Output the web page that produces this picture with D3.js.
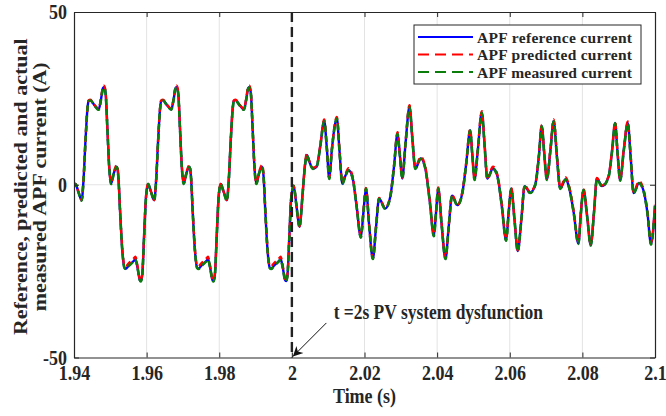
<!DOCTYPE html>
<html>
<head>
<meta charset="utf-8">
<script src="https://d3js.org/d3.v7.min.js"></script>
<style>
  body { margin: 0; background: #fff; }
  text { font-family: "Liberation Serif", "Times New Roman", serif; font-weight: bold; fill: #262626; }
</style>
</head>
<body>
<script>
// time axis (s)
const time = [
  // 1.94 - 1.96
  1.9400, 1.9404, 1.9412, 1.9421, 1.9426, 1.9432, 1.9437, 1.9440, 1.9445, 1.9455, 1.9468, 1.9474,
  1.9480, 1.9483, 1.9487, 1.9492, 1.9497, 1.9502, 1.9510, 1.9518, 1.9522, 1.9527, 1.9533, 1.9539,
  1.9543, 1.9550, 1.9565, 1.9569, 1.9575, 1.9581, 1.9584, 1.9588, 1.9593, 1.9598,
  // 1.96 - 1.98
  1.9604, 1.9612, 1.9621, 1.9626, 1.9632, 1.9637, 1.9640, 1.9645, 1.9655, 1.9668, 1.9674,
  1.9680, 1.9683, 1.9687, 1.9692, 1.9697, 1.9702, 1.9710, 1.9718, 1.9722, 1.9727, 1.9733, 1.9739,
  1.9743, 1.9750, 1.9765, 1.9769, 1.9775, 1.9781, 1.9784, 1.9788, 1.9793, 1.9798,
  // 1.98 - 2.00
  1.9804, 1.9812, 1.9821, 1.9826, 1.9832, 1.9837, 1.9840, 1.9845, 1.9855, 1.9868, 1.9874,
  1.9880, 1.9883, 1.9887, 1.9892, 1.9897, 1.9902, 1.9910, 1.9918, 1.9922, 1.9927, 1.9933, 1.9939,
  1.9943, 1.9950, 1.9965, 1.9969, 1.9975, 1.9981, 1.9984, 1.9988, 1.9993, 1.9998,
  // after PV dysfunction
  2.0005, 2.0012, 2.0021, 2.0030, 2.0036, 2.0041, 2.0047, 2.0058, 2.0068, 2.0078,
  2.0089, 2.0096, 2.0103, 2.0110, 2.0124, 2.0131, 2.0139, 2.0147, 2.0156, 2.0167,
  2.0178, 2.0190, 2.0197, 2.0204, 2.0213, 2.0223, 2.0232, 2.0240, 2.0257, 2.0271,
  2.0281, 2.0291, 2.0297, 2.0304, 2.0313, 2.0324, 2.0332, 2.0340, 2.0355, 2.0367,
  2.0380, 2.0391, 2.0397, 2.0403, 2.0412, 2.0423, 2.0432, 2.0441, 2.0456, 2.0470,
  2.0480, 2.0491, 2.0497, 2.0503, 2.0512, 2.0523, 2.0531, 2.0538, 2.0554, 2.0566,
  2.0578, 2.0590, 2.0597, 2.0604, 2.0613, 2.0622, 2.0632, 2.0641, 2.0656, 2.0670,
  2.0680, 2.0688, 2.0695, 2.0702, 2.0712, 2.0721, 2.0730, 2.0739, 2.0754, 2.0763,
  2.0776, 2.0789, 2.0796, 2.0803, 2.0813, 2.0823, 2.0832, 2.0840, 2.0854, 2.0872,
  2.0882, 2.0890, 2.0897, 2.0904, 2.0914, 2.0925, 2.0933, 2.0941, 2.0956, 2.0968,
  2.0979, 2.0989, 2.1000
];

// APF reference current (A)
const refCurrent = [
  -0.5, 0.2, -2.0, -4.5, 1.0, 13.5, 22.0, 24.2, 24.5, 23.2, 21.8, 24.5,
  28.0, 28.2, 26.5, 16.0, 5.0, 0.3, 3.5, 5.2, 2.5, -8.0, -19.0, -24.0,
  -24.3, -23.5, -22.0, -21.5, -24.0, -27.5, -27.9, -26.0, -15.0, -4.0,
  0.2, -2.0, -4.5, 1.0, 13.5, 22.0, 24.2, 24.5, 23.2, 21.8, 24.5,
  28.0, 28.2, 26.5, 16.0, 5.0, 0.3, 3.5, 5.2, 2.5, -8.0, -19.0, -24.0,
  -24.3, -23.5, -22.0, -21.5, -24.0, -27.5, -27.9, -26.0, -15.0, -4.0,
  0.2, -2.0, -4.5, 1.0, 13.5, 22.0, 24.2, 24.5, 23.2, 21.8, 24.5,
  28.0, 28.2, 26.5, 16.0, 5.0, 0.3, 3.5, 5.2, 2.5, -8.0, -19.0, -24.0,
  -24.3, -23.5, -22.0, -21.5, -24.0, -27.5, -27.9, -26.0, -15.0, -4.0,
  -0.3, -5.5, -12.2, -2.0, 5.5, 8.6, 7.0, 4.7, 5.2, 11.0,
  18.5, 11.0, 1.8, 10.0, 19.2, 10.0, 0.3, 2.5, 4.2, 2.1,
  -6.0, -15.2, -8.0, -1.1, -12.0, -21.4, -12.0, -4.0, -6.9, -3.5,
  5.0, 14.8, 9.0, 1.8, 12.0, 22.6, 13.0, 4.7, 7.6, 5.0,
  -5.0, -14.8, -8.0, -1.0, -11.0, -21.4, -12.0, -3.2, -5.9, -2.0,
  6.0, 15.8, 8.5, 1.5, 10.0, 20.9, 11.0, 1.8, 4.7, 2.5,
  -6.0, -16.1, -8.0, -1.1, -10.0, -19.2, -10.0, -0.4, -2.3, -0.1,
  8.0, 17.0, 9.0, 1.5, 10.0, 18.5, 8.0, -1.1, 1.6, -0.6,
  -8.0, -17.0, -8.0, -1.4, -9.0, -17.5, -8.0, 1.8, -0.4, 2.3,
  10.0, 17.9, 9.0, 1.3, 10.0, 17.9, 8.0, -2.4, 0.5, -1.6,
  -8.0, -17.2, -6.0
];

// APF predicted current (A)
const predCurrent = [
  -0.5, 0.2, -2.0, -4.4, 1.2, 13.7, 22.2, 24.4, 24.6, 23.3, 22.0, 24.8,
  28.4, 28.7, 26.9, 16.3, 5.3, 0.6, 3.8, 5.7, 2.9, -7.6, -18.6, -23.4,
  -23.6, -22.8, -21.3, -20.8, -23.5, -27.3, -27.7, -25.8, -14.8, -3.8,
  0.2, -2.0, -4.4, 1.2, 13.7, 22.2, 24.4, 24.6, 23.3, 22.0, 24.8,
  28.4, 28.7, 26.9, 16.3, 5.3, 0.6, 3.8, 5.7, 2.9, -7.6, -18.6, -23.4,
  -23.6, -22.8, -21.3, -20.8, -23.5, -27.3, -27.7, -25.8, -14.8, -3.8,
  0.2, -2.0, -4.4, 1.2, 13.7, 22.2, 24.4, 24.6, 23.3, 22.0, 24.8,
  28.4, 28.7, 26.9, 16.3, 5.3, 0.6, 3.8, 5.7, 2.9, -7.6, -18.6, -23.4,
  -23.6, -22.8, -21.3, -20.8, -23.5, -27.3, -27.7, -25.8, -14.8, -3.8,
  -0.3, -5.5, -12.0, -2.0, 5.8, 8.9, 7.2, 4.9, 5.4, 11.2,
  18.9, 11.2, 2.0, 10.2, 19.6, 10.3, 0.6, 2.9, 4.8, 2.5,
  -5.7, -14.8, -7.8, -0.9, -11.8, -21.2, -11.8, -3.8, -6.7, -3.3,
  5.3, 15.2, 9.2, 2.0, 12.3, 23.0, 13.4, 5.0, 8.1, 5.4,
  -4.6, -14.3, -7.7, -0.8, -10.8, -21.2, -11.8, -3.0, -5.7, -1.8,
  6.3, 16.1, 8.8, 1.7, 10.3, 21.3, 11.4, 2.1, 5.2, 2.9,
  -5.6, -15.6, -7.8, -0.9, -9.8, -19.0, -9.8, -0.2, -2.1, 0.1,
  8.3, 17.3, 9.2, 1.7, 10.3, 18.9, 8.4, -0.8, 2.1, -0.2,
  -7.6, -16.5, -7.8, -1.2, -8.8, -17.3, -7.8, 2.0, -0.2, 2.5,
  10.3, 18.2, 9.2, 1.5, 10.3, 18.3, 8.4, -2.1, 1.0, -1.2,
  -7.6, -16.8, -5.8
];

// APF measured current (A)
const measCurrent = [
  -0.5, 0.2, -2.1, -4.6, 0.9, 13.4, 21.9, 24.1, 24.4, 23.1, 21.7, 24.4,
  27.9, 28.1, 26.4, 15.9, 4.9, 0.2, 3.4, 5.1, 2.4, -8.1, -19.1, -24.1,
  -24.4, -23.6, -22.1, -21.6, -24.1, -27.6, -28.0, -26.1, -15.1, -4.1,
  0.2, -2.1, -4.6, 0.9, 13.4, 21.9, 24.1, 24.4, 23.1, 21.7, 24.4,
  27.9, 28.1, 26.4, 15.9, 4.9, 0.2, 3.4, 5.1, 2.4, -8.1, -19.1, -24.1,
  -24.4, -23.6, -22.1, -21.6, -24.1, -27.6, -28.0, -26.1, -15.1, -4.1,
  0.2, -2.1, -4.6, 0.9, 13.4, 21.9, 24.1, 24.4, 23.1, 21.7, 24.4,
  27.9, 28.1, 26.4, 15.9, 4.9, 0.2, 3.4, 5.1, 2.4, -8.1, -19.1, -24.1,
  -24.4, -23.6, -22.1, -21.6, -24.1, -27.6, -28.0, -26.1, -15.1, -4.1,
  -0.4, -5.6, -12.3, -2.1, 5.4, 8.5, 6.9, 4.6, 5.1, 10.9,
  18.4, 10.9, 1.7, 9.9, 19.1, 9.9, 0.2, 2.4, 4.1, 2.0,
  -6.1, -15.3, -8.1, -1.2, -12.1, -21.5, -12.1, -4.1, -7.0, -3.6,
  4.9, 14.7, 8.9, 1.7, 11.9, 22.5, 12.9, 4.6, 7.5, 4.9,
  -5.1, -14.9, -8.1, -1.1, -11.1, -21.5, -12.1, -3.3, -6.0, -2.1,
  5.9, 15.7, 8.4, 1.4, 9.9, 20.8, 10.9, 1.7, 4.6, 2.4,
  -6.1, -16.2, -8.1, -1.2, -10.1, -19.3, -10.1, -0.5, -2.4, -0.2,
  7.9, 16.9, 8.9, 1.4, 9.9, 18.4, 7.9, -1.2, 1.5, -0.7,
  -8.1, -17.1, -8.1, -1.5, -9.1, -17.6, -8.1, 1.7, -0.5, 2.2,
  9.9, 17.8, 8.9, 1.2, 9.9, 17.8, 7.9, -2.5, 0.4, -1.7,
  -8.1, -17.3, -6.1
];

const xTicks = [1.94, 1.96, 1.98, 2.0, 2.02, 2.04, 2.06, 2.08, 2.1];
const xTickLabels = ["1.94", "1.96", "1.98", "2", "2.02", "2.04", "2.06", "2.08", "2.1"];
const yTicks = [-50, 0, 50];
const yTickLabels = ["-50", "0", "50"];
const seriesNames = ["APF reference current", "APF predicted current", "APF measured current"];
const eventTime = 2.0;
const eventLabel = "t =2s PV system dysfunction";

const W = 666, H = 416;
const margin = { top: 12, right: 11, bottom: 58.5, left: 74 };
const svg = d3.select("body").append("svg").attr("width", W).attr("height", H);

const x = d3.scaleLinear().domain([1.94, 2.1]).range([margin.left, W - margin.right]);
const y = d3.scaleLinear().domain([-50, 50]).range([H - margin.bottom, margin.top]);

const axisColor = "#262626";
const stretch = 1.13; // the original figure is slightly taller than wide

// grid
svg.append("g").selectAll("line")
  .data(xTicks.slice(1, -1))
  .join("line")
  .attr("x1", d => x(d)).attr("x2", d => x(d))
  .attr("y1", y(-50)).attr("y2", y(50))
  .attr("stroke", "#e3e3e3").attr("stroke-width", 1);
svg.append("g").selectAll("line")
  .data(yTicks.slice(1, -1))
  .join("line")
  .attr("x1", x(1.94)).attr("x2", x(2.1))
  .attr("y1", d => y(d)).attr("y2", d => y(d))
  .attr("stroke", "#e3e3e3").attr("stroke-width", 1);

// clip
svg.append("clipPath").attr("id", "clip")
  .append("rect")
  .attr("x", x(1.94)).attr("y", y(50))
  .attr("width", x(2.1) - x(1.94)).attr("height", y(-50) - y(50));

const mkLine = vals => d3.line()
  .x((d, i) => x(time[i]))
  .y((d, i) => y(vals[i]))
  .curve(d3.curveMonotoneX)(vals);

const plot = svg.append("g").attr("clip-path", "url(#clip)");

plot.append("path")
  .attr("d", mkLine(refCurrent))
  .attr("fill", "none").attr("stroke", "#0000ff").attr("stroke-width", 2.4);
plot.append("path")
  .attr("d", mkLine(predCurrent))
  .attr("fill", "none").attr("stroke", "#ff0000").attr("stroke-width", 2.4)
  .attr("stroke-dasharray", "6,4").attr("stroke-dashoffset", 2);
plot.append("path")
  .attr("d", mkLine(measCurrent))
  .attr("fill", "none").attr("stroke", "#0b7d0b").attr("stroke-width", 2.6)
  .attr("stroke-dasharray", "6,4");

// event line at t = 2 s
svg.append("line")
  .attr("x1", x(eventTime)).attr("x2", x(eventTime))
  .attr("y1", y(50)).attr("y2", y(-50))
  .attr("stroke", "#222").attr("stroke-width", 2.4)
  .attr("stroke-dasharray", "10,5");

// axes
const fontSize = "18px";
const xAxis = svg.append("g")
  .attr("transform", `translate(0,${y(-50)})`)
  .call(d3.axisBottom(x).tickValues(xTicks).tickFormat((d, i) => xTickLabels[i])
    .tickSizeInner(-5).tickSizeOuter(0).tickPadding(7.5));
const xTop = svg.append("g")
  .attr("transform", `translate(0,${y(50)})`)
  .call(d3.axisTop(x).tickValues(xTicks).tickFormat("")
    .tickSizeInner(-5).tickSizeOuter(0));
const yAxis = svg.append("g")
  .attr("transform", `translate(${x(1.94)},0)`)
  .call(d3.axisLeft(y).tickValues(yTicks).tickFormat((d, i) => yTickLabels[i])
    .tickSizeInner(-5).tickSizeOuter(0).tickPadding(7));
const yRight = svg.append("g")
  .attr("transform", `translate(${x(2.1)},0)`)
  .call(d3.axisRight(y).tickValues(yTicks).tickFormat("")
    .tickSizeInner(-5).tickSizeOuter(0));

[xAxis, xTop, yAxis, yRight].forEach(g => {
  g.select(".domain").attr("stroke", axisColor).attr("stroke-width", 1.2);
  g.selectAll(".tick line").attr("stroke", axisColor).attr("stroke-width", 1);
  g.selectAll(".tick text")
    .attr("fill", axisColor)
    .attr("transform", `scale(1,${stretch})`)
    .style("font-family", "'Liberation Serif', 'Times New Roman', serif")
    .style("font-weight", "bold")
    .style("font-size", fontSize);
});

// axis titles
svg.append("text")
  .attr("transform", `translate(${(x(1.94) + x(2.1)) / 2},403) scale(1,${stretch})`)
  .attr("text-anchor", "middle")
  .style("font-size", "18px")
  .text("Time (s)");

const yTitle = svg.append("text")
  .attr("transform", `translate(0,${(y(50) + y(-50)) / 2 + 2}) scale(1,1.22) rotate(-90)`)
  .attr("text-anchor", "middle")
  .style("font-size", "18px");
yTitle.append("tspan").attr("x", 0).attr("y", 27.5).text("Reference, predicted and actual");
yTitle.append("tspan").attr("x", 0).attr("y", 46.5).text("measured APF current (A)");

// annotation arrow
const defs = svg.append("defs");
defs.append("marker")
  .attr("id", "arrow")
  .attr("viewBox", "0 0 10 10")
  .attr("refX", 10).attr("refY", 5)
  .attr("markerWidth", 13).attr("markerHeight", 10)
  .attr("markerUnits", "userSpaceOnUse")
  .attr("orient", "auto")
  .append("path").attr("d", "M0,0 L10,5 L0,10 L3,5 Z").attr("fill", "#111");

svg.append("line")
  .attr("x1", x(2.0095)).attr("y1", y(-40))
  .attr("x2", x(eventTime) + 1).attr("y2", y(-50) - 1)
  .attr("stroke", "#111").attr("stroke-width", 1)
  .attr("marker-end", "url(#arrow)");

svg.append("text")
  .attr("transform", `translate(${x(2.0115)},${y(-39)}) scale(0.97,${stretch})`)
  .style("font-size", "18px")
  .text(eventLabel);

// legend
const legend = svg.append("g");
legend.append("rect")
  .attr("x", 414).attr("y", 25).attr("width", 227).attr("height", 59)
  .attr("fill", "#fff").attr("stroke", axisColor).attr("stroke-width", 1);
const legColors = ["#0000ff", "#ff0000", "#0b7d0b"];
const legDash = [null, "11,6", "11,6"];
seriesNames.forEach((name, i) => {
  const cy = 37 + i * 17.5;
  legend.append("line")
    .attr("x1", 418).attr("x2", 473).attr("y1", cy).attr("y2", cy)
    .attr("stroke", legColors[i]).attr("stroke-width", 2)
    .attr("stroke-dasharray", legDash[i]);
  legend.append("text")
    .attr("x", 477).attr("y", cy + 5.5)
    .attr("textLength", 155).attr("lengthAdjust", "spacing")
    .style("font-size", "15.5px")
    .text(name);
});
</script>
</body>
</html>
